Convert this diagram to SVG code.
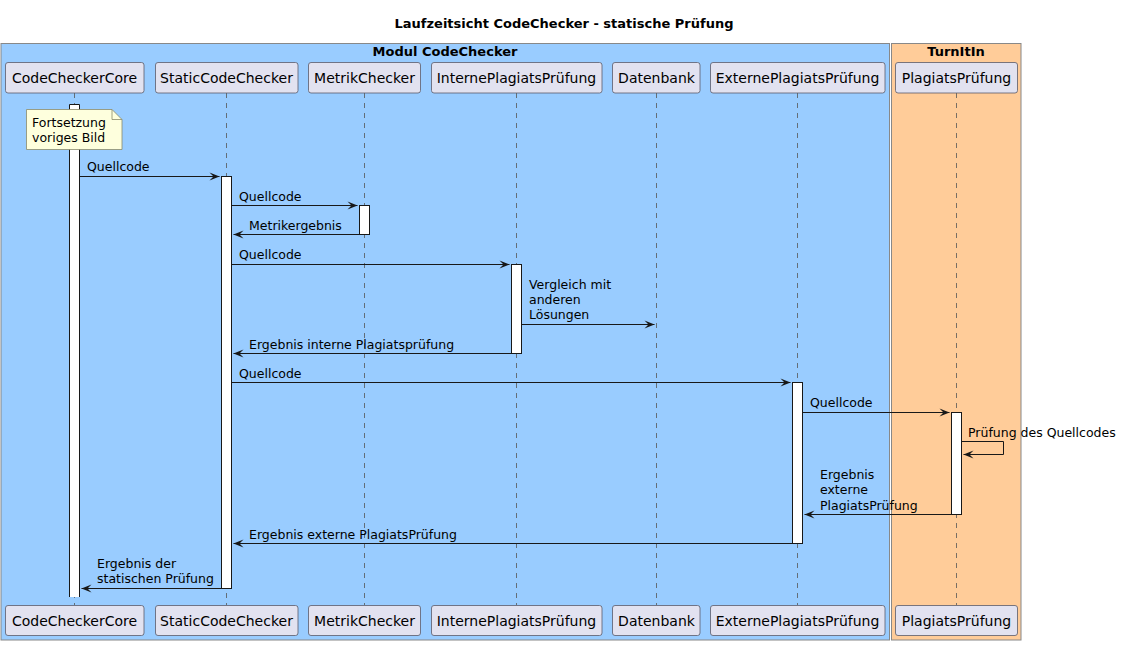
<svg xmlns="http://www.w3.org/2000/svg" width="1123" height="645" viewBox="0 0 1123 645">
<style>
text{font-family:"DejaVu Sans","Liberation Sans",sans-serif;fill:#000}
.t{font-size:13px;font-weight:bold}
.bt{font-size:13px;font-weight:bold}
.p{font-size:14px;text-anchor:middle}
.m{font-size:12.5px}
.pr{fill:#E2E2F0;stroke:#5A5A6A;stroke-width:0.8}
.ll{stroke:#555;stroke-width:0.8;stroke-dasharray:5,5}
.act{fill:#fff;stroke:#181818;stroke-width:1}
.msg{stroke:#181818;stroke-width:1;fill:none}
.ah{fill:#181818}
</style>
<rect width="1123" height="645" fill="#fff"/>
<text class="t" x="564" y="28" text-anchor="middle" font-size="14">Laufzeitsicht CodeChecker - statische Prüfung</text>
<g id="box-modul">
<rect x="1" y="43.5" width="888.5" height="596.5" fill="#99CCFF" stroke="#888" stroke-width="1"/>
<text class="bt" x="445" y="56" text-anchor="middle">Modul CodeChecker</text>
</g>
<g id="box-turnitin">
<rect x="891.5" y="43.5" width="129.5" height="596.5" fill="#FFCC99" stroke="#888" stroke-width="1"/>
<text class="bt" x="956" y="56" text-anchor="middle">TurnItIn</text>
</g>
<g id="lifelines">
<line class="ll" x1="74.5" y1="93" x2="74.5" y2="605"/>
<line class="ll" x1="226.5" y1="93" x2="226.5" y2="605"/>
<line class="ll" x1="364.5" y1="93" x2="364.5" y2="605"/>
<line class="ll" x1="516.5" y1="93" x2="516.5" y2="605"/>
<line class="ll" x1="656.5" y1="93" x2="656.5" y2="605"/>
<line class="ll" x1="797.5" y1="93" x2="797.5" y2="605"/>
<line class="ll" x1="956.5" y1="93" x2="956.5" y2="605"/>
</g>
<g id="CodeCheckerCore">
<rect class="pr" x="5.5" y="62.5" width="138.5" height="30.5" rx="2.5"/>
<text class="p" x="74.5" y="83">CodeCheckerCore</text>
<rect class="pr" x="5.5" y="605.5" width="138.5" height="30" rx="2.5"/>
<text class="p" x="74.5" y="626">CodeCheckerCore</text>
<path d="M69.5,597 V104.5 H79.5 V597" fill="#fff" stroke="#181818" stroke-width="1"/>
</g>
<g id="StaticCodeChecker">
<rect class="pr" x="155.5" y="62.5" width="142.5" height="30.5" rx="2.5"/>
<text class="p" x="226.5" y="83">StaticCodeChecker</text>
<rect class="pr" x="155.5" y="605.5" width="142.5" height="30" rx="2.5"/>
<text class="p" x="226.5" y="626">StaticCodeChecker</text>
<rect class="act" x="221.5" y="176.5" width="10" height="412"/>
</g>
<g id="MetrikChecker">
<rect class="pr" x="308.5" y="62.5" width="112" height="30.5" rx="2.5"/>
<text class="p" x="364.5" y="83">MetrikChecker</text>
<rect class="pr" x="308.5" y="605.5" width="112" height="30" rx="2.5"/>
<text class="p" x="364.5" y="626">MetrikChecker</text>
<rect class="act" x="359.5" y="205.5" width="10" height="29"/>
</g>
<g id="InternePlagiatsPruefung">
<rect class="pr" x="431.5" y="62.5" width="170.5" height="30.5" rx="2.5"/>
<text class="p" x="516.5" y="83">InternePlagiatsPrüfung</text>
<rect class="pr" x="431.5" y="605.5" width="170.5" height="30" rx="2.5"/>
<text class="p" x="516.5" y="626">InternePlagiatsPrüfung</text>
<rect class="act" x="511.5" y="264.5" width="10" height="89"/>
</g>
<g id="Datenbank">
<rect class="pr" x="612.5" y="62.5" width="87.5" height="30.5" rx="2.5"/>
<text class="p" x="656.5" y="83">Datenbank</text>
<rect class="pr" x="612.5" y="605.5" width="87.5" height="30" rx="2.5"/>
<text class="p" x="656.5" y="626">Datenbank</text>
</g>
<g id="ExternePlagiatsPruefung">
<rect class="pr" x="710.5" y="62.5" width="174.5" height="30.5" rx="2.5"/>
<text class="p" x="797.5" y="83">ExternePlagiatsPrüfung</text>
<rect class="pr" x="710.5" y="605.5" width="174.5" height="30" rx="2.5"/>
<text class="p" x="797.5" y="626">ExternePlagiatsPrüfung</text>
<rect class="act" x="792.5" y="382.5" width="10" height="161"/>
</g>
<g id="PlagiatsPruefung">
<rect class="pr" x="895.5" y="62.5" width="122" height="30.5" rx="2.5"/>
<text class="p" x="956.5" y="83">PlagiatsPrüfung</text>
<rect class="pr" x="895.5" y="605.5" width="122" height="30" rx="2.5"/>
<text class="p" x="956.5" y="626">PlagiatsPrüfung</text>
<rect class="act" x="951.5" y="412.5" width="10" height="102"/>
</g>
<g id="note">
<path d="M26.5,109.5 H112 L122,119.5 V149.5 H26.5 Z" fill="#FEFFDD" stroke="#8A8A6A" stroke-width="0.8"/>
<path d="M112,109.5 V119.5 H122" fill="none" stroke="#8A8A6A" stroke-width="0.8"/>
<text class="m" x="32" y="127">Fortsetzung</text>
<text class="m" x="32" y="142">voriges Bild</text>
</g>
<g id="connectors">
<line class="msg" x1="79.5" y1="176.5" x2="219.5" y2="176.5"/>
<polygon class="ah" points="209.5,172.5 219.5,176.5 209.5,180.5 213.5,176.5"/>
<text class="m" x="87" y="171">Quellcode</text>

<line class="msg" x1="231.5" y1="205.5" x2="357.5" y2="205.5"/>
<polygon class="ah" points="347.5,201.5 357.5,205.5 347.5,209.5 351.5,205.5"/>
<text class="m" x="239" y="201">Quellcode</text>

<line class="msg" x1="359.5" y1="234.5" x2="233.5" y2="234.5"/>
<polygon class="ah" points="243.5,230.5 233.5,234.5 243.5,238.5 239.5,234.5"/>
<text class="m" x="249" y="230">Metrikergebnis</text>

<line class="msg" x1="231.5" y1="264.5" x2="509.5" y2="264.5"/>
<polygon class="ah" points="499.5,260.5 509.5,264.5 499.5,268.5 503.5,264.5"/>
<text class="m" x="239" y="259">Quellcode</text>

<line class="msg" x1="521.5" y1="324.5" x2="654.5" y2="324.5"/>
<polygon class="ah" points="644.5,320.5 654.5,324.5 644.5,328.5 648.5,324.5"/>
<text class="m" x="529" y="289">Vergleich mit</text>
<text class="m" x="529" y="304">anderen</text>
<text class="m" x="529" y="319">Lösungen</text>

<line class="msg" x1="511.5" y1="353.5" x2="233.5" y2="353.5"/>
<polygon class="ah" points="243.5,349.5 233.5,353.5 243.5,357.5 239.5,353.5"/>
<text class="m" x="249" y="349">Ergebnis interne Plagiatsprüfung</text>

<line class="msg" x1="231.5" y1="382.5" x2="790.5" y2="382.5"/>
<polygon class="ah" points="780.5,378.5 790.5,382.5 780.5,386.5 784.5,382.5"/>
<text class="m" x="239" y="378">Quellcode</text>

<line class="msg" x1="802.5" y1="412.5" x2="949.5" y2="412.5"/>
<polygon class="ah" points="939.5,408.5 949.5,412.5 939.5,416.5 943.5,412.5"/>
<text class="m" x="810" y="407">Quellcode</text>

<path class="msg" d="M961.5,441.5 H1003.5 V454.5 H963.5"/>
<polygon class="ah" points="973.5,450.5 963.5,454.5 973.5,458.5 969.5,454.5"/>
<text class="m" x="968" y="437">Prüfung des Quellcodes</text>

<line class="msg" x1="951.5" y1="514.5" x2="804.5" y2="514.5"/>
<polygon class="ah" points="814.5,510.5 804.5,514.5 814.5,518.5 810.5,514.5"/>
<text class="m" x="820" y="479">Ergebnis</text>
<text class="m" x="820" y="494">externe</text>
<text class="m" x="820" y="510">PlagiatsPrüfung</text>

<line class="msg" x1="792.5" y1="543.5" x2="233.5" y2="543.5"/>
<polygon class="ah" points="243.5,539.5 233.5,543.5 243.5,547.5 239.5,543.5"/>
<text class="m" x="249" y="539">Ergebnis externe PlagiatsPrüfung</text>

<line class="msg" x1="221.5" y1="588.5" x2="81.5" y2="588.5"/>
<polygon class="ah" points="91.5,584.5 81.5,588.5 91.5,592.5 87.5,588.5"/>
<text class="m" x="97" y="568">Ergebnis der</text>
<text class="m" x="97" y="583">statischen Prüfung</text>
</g>
</svg>
